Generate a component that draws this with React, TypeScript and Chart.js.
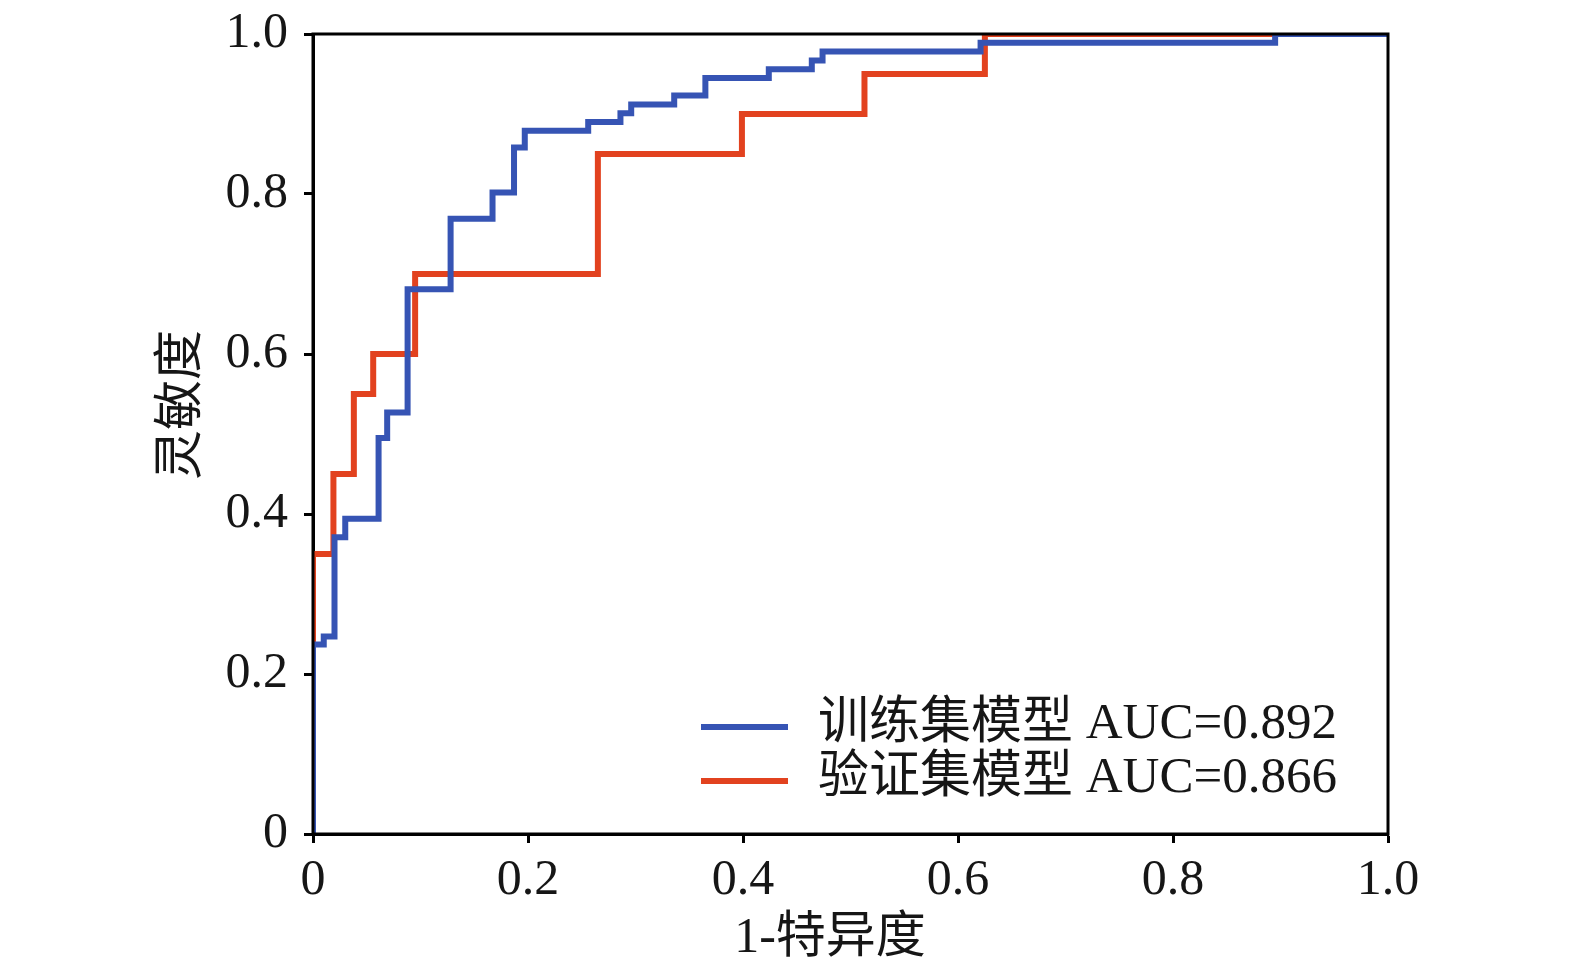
import { useEffect, useRef } from 'react'
import { Chart, registerables } from 'chart.js'

Chart.register(...registerables)

// ROC step points (where the curve jumps)
const trainFpr = [0, 0, 0.010, 0.020, 0.030, 0.061, 0.069, 0.088, 0.128, 0.167, 0.187, 0.197, 0.256, 0.286, 0.296, 0.336, 0.365, 0.424, 0.464, 0.474, 0.621, 0.895, 1.0]
const trainTpr = [0, 0.237, 0.247, 0.371, 0.394, 0.495, 0.527, 0.681, 0.769, 0.802, 0.858, 0.879, 0.890, 0.901, 0.912, 0.923, 0.945, 0.956, 0.967, 0.978, 0.989, 1.0, 1.0]

const validFpr = [0, 0, 0.019, 0.038, 0.056, 0.095, 0.265, 0.399, 0.513, 0.625, 1.0]
const validTpr = [0, 0.35, 0.45, 0.55, 0.60, 0.70, 0.85, 0.90, 0.95, 1.0, 1.0]

const seriesLabels = ['训练集模型 AUC=0.892', '验证集模型 AUC=0.866']
const tickValues = [0, 0.2, 0.4, 0.6, 0.8, 1.0]
const tickLabels = ['0', '0.2', '0.4', '0.6', '0.8', '1.0']
const xTitle = '1-特异度'
const yTitle = '灵敏度'

const FONT = "'Liberation Serif', 'Noto Sans CJK SC', serif"
const INK = '#161616'
const BLUE = '#3654b4'
const RED = '#e2421f'

const toPoints = (xs: number[], ys: number[]) => xs.map((x, i) => ({ x, y: ys[i] }))

// frame on top/right, axis titles and the legend inside the plot
const framePlugin = {
  id: 'frame',
  afterDraw(chart: Chart) {
    const { ctx, chartArea: a } = chart
    ctx.save()
    ctx.strokeStyle = '#000'
    ctx.lineWidth = 3
    ctx.strokeRect(a.left, a.top, a.right - a.left, a.bottom - a.top)

    ctx.fillStyle = INK
    ctx.font = `50px ${FONT}`
    ctx.textAlign = 'center'
    ctx.textBaseline = 'middle'
    ctx.fillText(xTitle, a.left + 517, a.bottom + 105)

    ctx.save()
    ctx.translate(a.left - 130, a.top + 371)
    ctx.rotate(-Math.PI / 2)
    ctx.fillText(yTitle, 0, 0)
    ctx.restore()

    ctx.font = `51px ${FONT}`
    ctx.textAlign = 'left'
    chart.data.datasets.forEach((ds, i) => {
      const y = a.bottom - 107 + i * 54
      ctx.strokeStyle = ds.borderColor as string
      ctx.lineWidth = 6
      ctx.beginPath()
      ctx.moveTo(a.right - 687, y)
      ctx.lineTo(a.right - 600, y)
      ctx.stroke()
      ctx.fillText(ds.label as string, a.right - 570, y - 2)
    })
    ctx.restore()
  },
}

export default function App() {
  const canvasRef = useRef<HTMLCanvasElement>(null)

  useEffect(() => {
    if (!canvasRef.current) return
    const axis = (horizontal: boolean) => ({
      type: 'linear' as const,
      min: 0,
      max: 1,
      afterBuildTicks: (s: any) => { s.ticks = tickValues.map(v => ({ value: v })) },
      afterFit: (s: any) => { if (horizontal) s.height = 141; else s.width = 313 },
      border: { display: true, color: '#000', width: 3 },
      grid: { display: true, drawOnChartArea: false, drawTicks: true, tickLength: 9, tickWidth: 3, color: '#000' },
      ticks: {
        color: INK,
        font: { family: FONT, size: 50, lineHeight: horizontal ? 1.2 : 0.6 },
        padding: horizontal ? 8 : 16,
        callback: (v: any) => tickLabels[Math.round(Number(v) / 0.2)],
      },
    })

    const chart = new Chart(canvasRef.current, {
      type: 'scatter',
      data: {
        datasets: [
          {
            label: seriesLabels[0],
            data: toPoints(trainFpr, trainTpr),
            showLine: true,
            stepped: 'before',
            borderColor: BLUE,
            backgroundColor: BLUE,
            borderWidth: 6,
            pointRadius: 0,
          },
          {
            label: seriesLabels[1],
            data: toPoints(validFpr, validTpr),
            showLine: true,
            stepped: 'before',
            borderColor: RED,
            backgroundColor: RED,
            borderWidth: 6,
            pointRadius: 0,
          },
        ],
      },
      options: {
        animation: false,
        responsive: true,
        maintainAspectRatio: false,
        layout: { padding: { left: 0, top: 34, right: 187, bottom: 0 } },
        plugins: { legend: { display: false }, tooltip: { enabled: false } },
        scales: {
          x: axis(true),
          y: axis(false),
        },
      },
      plugins: [framePlugin],
    })

    return () => chart.destroy()
  }, [])

  return (
    <div style={{ position: 'fixed', left: 0, top: 0, width: 1575, height: 975, background: '#fff' }}>
      <canvas ref={canvasRef} />
    </div>
  )
}
